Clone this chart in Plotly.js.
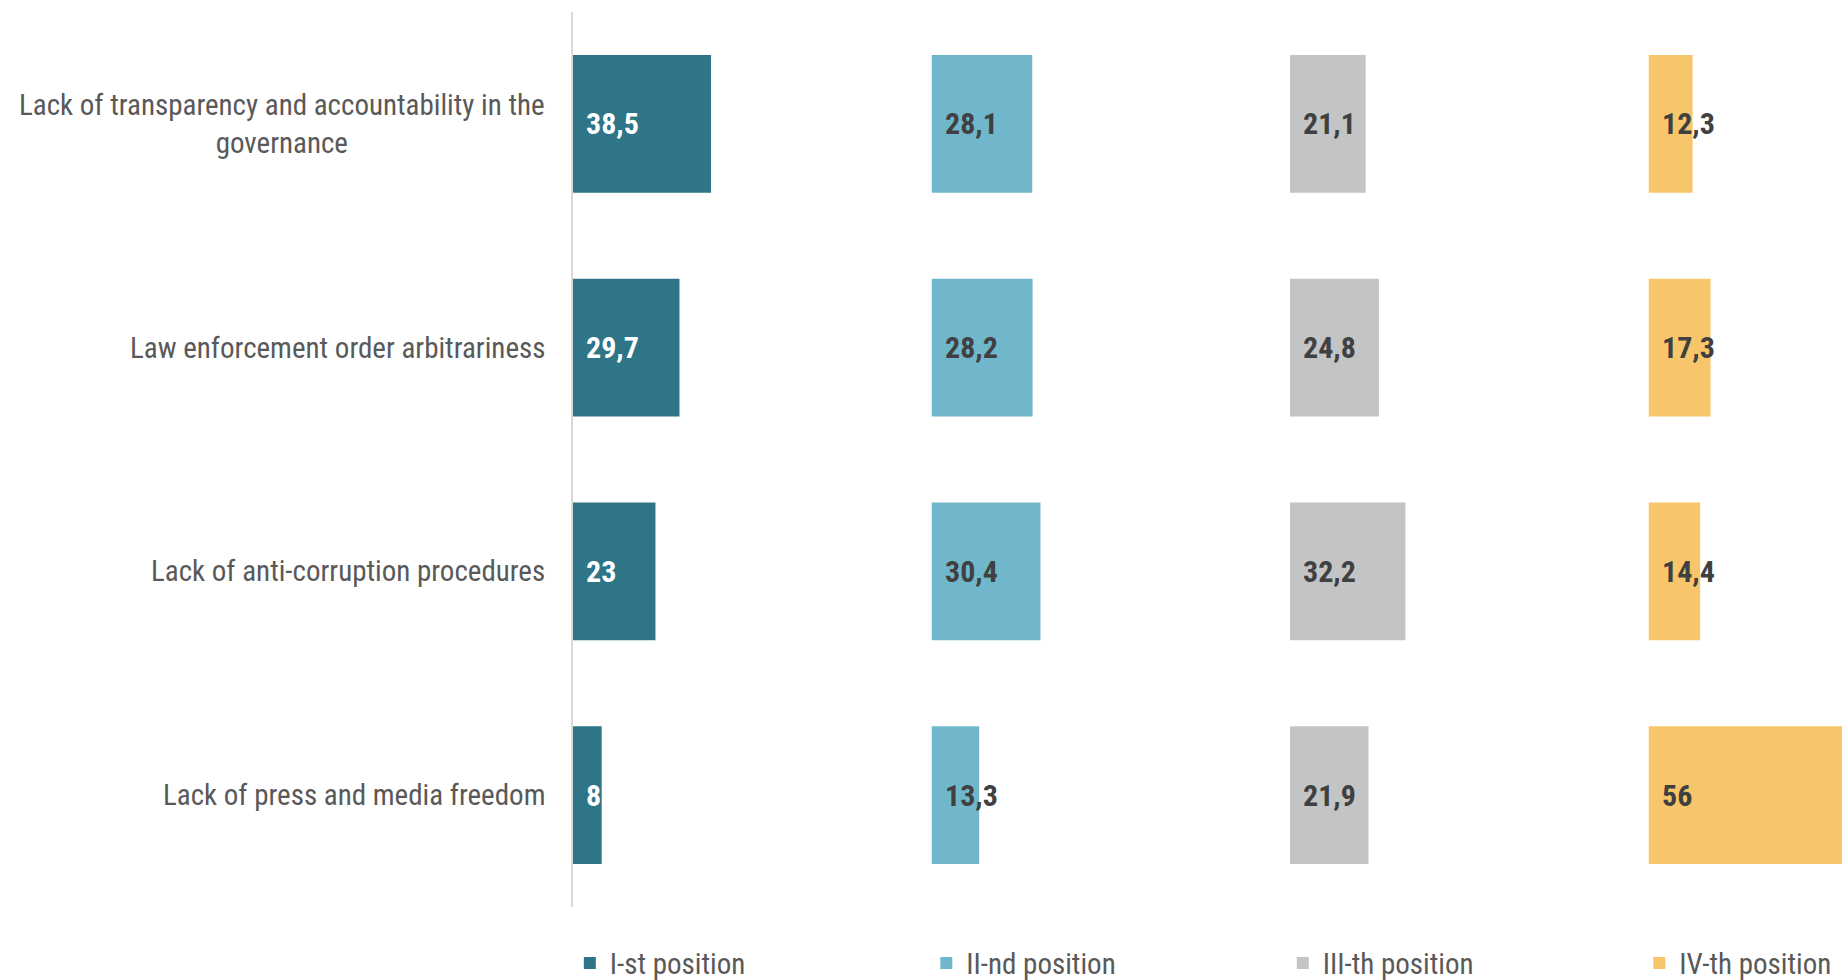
<!DOCTYPE html>
<html>
<head>
<meta charset="utf-8">
<script src="https://cdn.plot.ly/plotly-3.0.1.min.js"></script>
<style>
  html, body { margin: 0; padding: 0; background: #ffffff; }
  #chart { width: 1842px; height: 980px; }
  svg text { font-stretch: condensed; }
</style>
</head>
<body>
<div id="chart"></div>
<script>
// ---- data ----
const categories = [
  "Lack of transparency and accountability in the<br>governance",
  "Law enforcement order arbitrariness",
  "Lack of anti-corruption procedures",
  "Lack of press and media freedom"
];
const seriesNames = ["I-st position", "II-nd position", "III-th position", "IV-th position"];
const firstPosition  = [38.5, 29.7, 23, 8];
const secondPosition = [28.1, 28.2, 30.4, 13.3];
const thirdPosition  = [21.1, 24.8, 32.2, 21.9];
const fourthPosition = [12.3, 17.3, 14.4, 56];

// ---- styling ----
const FONT = 'Roboto, "Open Sans", "Liberation Sans", sans-serif';
const colors = ["#2E7587", "#70B7CB", "#C3C4C6", "#F8C66A"];
const labelColors = ["#FFFFFF", "#404040", "#404040", "#404040"];
const seriesValues = [firstPosition, secondPosition, thirdPosition, fourthPosition];
const axisIds = ["x", "x2", "x3", "x4"];

const W = 1842, H = 980;
const marginL = 573, marginR = 0, marginT = 12, marginB = 73;
const plotW = W - marginL - marginR;
const panelPx = 358.5;          // pixels per 100 units
const frac = panelPx / plotW;

const traces = seriesValues.map((vals, i) => ({
  type: "bar",
  orientation: "h",
  name: seriesNames[i],
  y: categories,
  x: vals,
  xaxis: axisIds[i],
  yaxis: "y",
  marker: { color: colors[i] },
  hoverinfo: "skip"
}));

const annotations = [];
// value labels
seriesValues.forEach((vals, i) => {
  vals.forEach((v, j) => {
    annotations.push({
      xref: axisIds[i], yref: "y",
      x: 0, y: categories[j],
      xanchor: "left", yanchor: "middle",
      xshift: 11,
      text: String(v).replace(".", ","),
      showarrow: false,
      font: { family: FONT, size: 30, color: labelColors[i], weight: "bold" }
    });
  });
});
// category labels (centered multi-line)
categories.forEach((c) => {
  annotations.push({
    xref: "paper", yref: "y",
    x: 0, y: c,
    xanchor: "right", yanchor: "middle",
    xshift: -26,
    align: "center",
    text: c,
    showarrow: false,
    font: { family: FONT, size: 29, color: "#595959" }
  });
});

function xaxisDef(i) {
  const start = i * frac;
  const end = Math.min(1, (i + 1) * frac);
  const rangeMax = 100 * (end - start) / frac;
  return {
    domain: [start, end],
    range: [0, rangeMax],
    anchor: "y",
    showgrid: false, zeroline: false, showline: false,
    showticklabels: false, ticks: "",
    fixedrange: true
  };
}

const layout = {
  width: W, height: H,
  margin: { l: marginL, r: marginR, t: marginT, b: marginB, pad: 0, autoexpand: false },
  paper_bgcolor: "#ffffff",
  plot_bgcolor: "#ffffff",
  font: { family: FONT, size: 29, color: "#595959" },
  bargap: 0.385,
  showlegend: true,
  legend: {
    orientation: "h",
    x: -0.0025, xanchor: "left",
    y: -0.0626, yanchor: "middle",
    entrywidth: 311.5, entrywidthmode: "pixels",
    font: { family: FONT, size: 29, color: "#595959" },
    bgcolor: "rgba(0,0,0,0)",
    traceorder: "normal"
  },
  xaxis: xaxisDef(0),
  xaxis2: xaxisDef(1),
  xaxis3: xaxisDef(2),
  xaxis4: xaxisDef(3),
  yaxis: {
    anchor: "x",
    autorange: "reversed",
    showticklabels: false,
    ticks: "",
    showgrid: false,
    zeroline: false,
    showline: true,
    linecolor: "#D9D9D9",
    linewidth: 2,
    fixedrange: true
  },
  annotations: annotations
};

Plotly.newPlot("chart", traces, layout, { displayModeBar: false, staticPlot: true });
</script>
</body>
</html>
